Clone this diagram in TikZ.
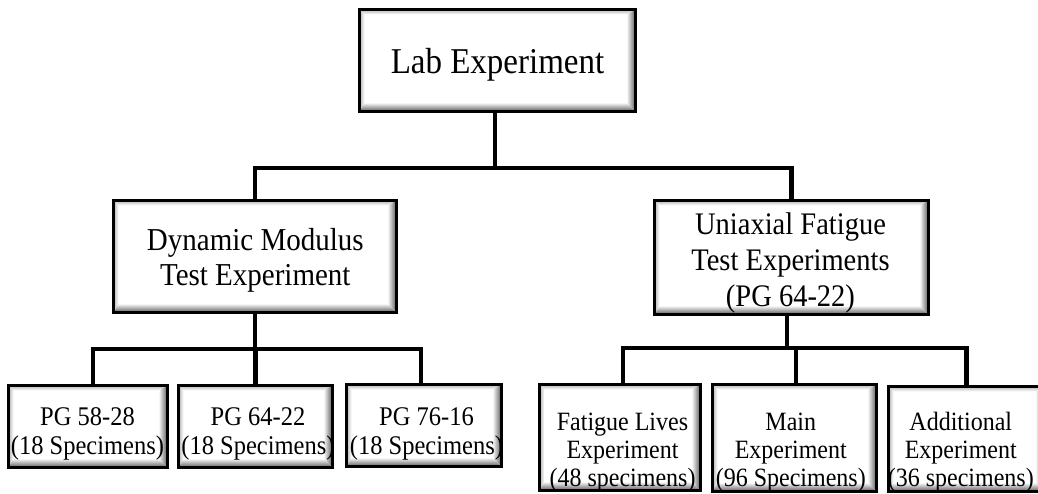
\documentclass[tikz,border=0pt]{standalone}
\usepackage{fontspec}
\setmainfont{Liberation Serif}
% centred stack of lines, drawn a little taller than wide; its baseline is the first line
\newcommand\linestack[1]{\scalebox{1}[1.1]{\begin{tabular}[t]{@{}c@{}}#1\end{tabular}}}
\begin{document}
\begin{tikzpicture}[x=1pt,y=-1pt]
\tikzset{
  bevbox/.style 2 args={draw=black, line width=3pt, fill=white, inner sep=0pt,
    line join=miter, minimum width=#1, minimum height=#2,
    path picture={
      \coordinate (pnw) at (path picture bounding box.north west);
      \coordinate (pne) at (path picture bounding box.north east);
      \coordinate (psw) at (path picture bounding box.south west);
      \coordinate (pse) at (path picture bounding box.south east);
      % light bevel on the upper and left sides
      \shade[top color=black!30, bottom color=white]
        (pnw) -- (pne) -- ([xshift=-9pt,yshift=-5pt]pne) -- ([xshift=5pt,yshift=-5pt]pnw) -- cycle;
      \shade[left color=black!30, right color=white]
        (pnw) -- ([xshift=5pt,yshift=-5pt]pnw) -- ([xshift=5pt,yshift=9pt]psw) -- (psw) -- cycle;
      % dark bevel on the right and lower sides
      \shade[left color=white, right color=black!65]
        (pne) -- (pse) -- ([xshift=-9pt,yshift=9pt]pse) -- ([xshift=-9pt,yshift=-5pt]pne) -- cycle;
      \shade[top color=white, bottom color=black!65]
        (psw) -- ([xshift=5pt,yshift=9pt]psw) -- ([xshift=-9pt,yshift=9pt]pse) -- (pse) -- cycle;
    }},
  txt/.style={inner sep=0pt, anchor=base},
  conn/.style={draw=black, line width=4.5pt, line join=miter},
}
\useasboundingbox (0,0) rectangle (1038,494);

% boxes
\node[bevbox={276pt}{102pt}] (top) at (497.5,60.5) {};
\node[bevbox={283pt}{112pt}] (dyn) at (255,256.5) {};
\node[bevbox={274pt}{114pt}] (uni) at (791.5,257.5) {};
\node[bevbox={159pt}{82pt}] (pg58) at (88,426.5) {};
\node[bevbox={154pt}{82pt}] (pg64) at (255.5,426.5) {};
\node[bevbox={155pt}{82pt}] (pg76) at (424,425.5) {};
\node[bevbox={161pt}{106pt}] (fat) at (620,437.5) {};
\node[bevbox={164pt}{107pt}] (main) at (794.5,438) {};
\node[bevbox={156pt}{105pt}] (add) at (966.5,439) {};

% labels
\node[txt, font=\fontsize{33}{40}\selectfont] (top-t) at (497.5,74)
  {\linestack{Lab Experiment}};
\node[txt, font=\fontsize{29}{31.8}\selectfont] (dyn-t) at (255.3,250.5)
  {\linestack{Dynamic Modulus\\Test Experiment}};
\node[txt, font=\fontsize{28.5}{32.3}\selectfont] (uni-t) at (790.5,235)
  {\linestack{Uniaxial Fatigue\\Test Experiments\\(PG 64-22)}};
\node[txt, font=\fontsize{24.5}{26.8}\selectfont] (pg58-t) at (87.5,425)
  {\linestack{PG 58-28\\(18 Specimens)}};
\node[txt, font=\fontsize{24.5}{26.8}\selectfont] (pg64-t) at (258,425)
  {\linestack{PG 64-22\\(18 Specimens)}};
\node[txt, font=\fontsize{24.5}{26.8}\selectfont] (pg76-t) at (426.5,425)
  {\linestack{PG 76-16\\(18 Specimens)}};
\node[txt, font=\fontsize{24}{25.5}\selectfont] (fat-t) at (622.5,430)
  {\linestack{Fatigue Lives\\Experiment\\(48 specimens)}};
\node[txt, font=\fontsize{24}{25.5}\selectfont] (main-t) at (790.8,430)
  {\linestack{Main\\Experiment\\(96 Specimens)}};
\node[txt, font=\fontsize{24}{25.5}\selectfont] (add-t) at (960.8,430)
  {\linestack{Additional\\Experiment\\(36 specimens)}};

% first level of branches
\coordinate (j1) at (495,168);
\draw[conn] ([xshift=-2.5pt]top.south) -- ([xshift=-2.5pt]top.south |- j1);
\draw[conn] (dyn.north) -- (dyn.north |- j1) -- (uni.north |- j1) -- (uni.north);

% branches under the dynamic modulus test
\coordinate (j2) at (256,349);
\draw[conn] (dyn.south) -- (dyn.south |- j2);
\draw[conn] ([xshift=5pt]pg58.north) -- ([xshift=5pt]pg58.north |- j2)
  -- ([xshift=-3pt]pg76.north |- j2) -- ([xshift=-3pt]pg76.north);
\draw[conn] (pg64.north) -- (pg64.north |- j2);

% branches under the uniaxial fatigue test
\coordinate (j3) at (787,348);
\draw[conn] ([xshift=-4.5pt]uni.south) -- ([xshift=-4.5pt]uni.south |- j3);
\draw[conn] ([xshift=3pt]fat.north) -- ([xshift=3pt]fat.north |- j3)
  -- (add.north |- j3) -- (add.north);
\draw[conn] ([xshift=1.5pt]main.north) -- ([xshift=1.5pt]main.north |- j3);
\end{tikzpicture}
\end{document}
